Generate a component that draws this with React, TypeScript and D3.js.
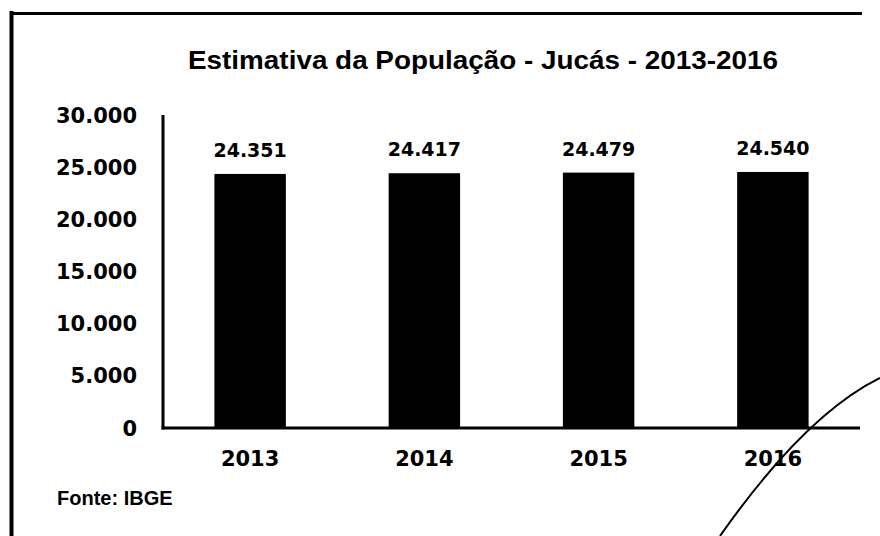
import React from "react";
import * as d3 from "d3";

const categories = ["2013", "2014", "2015", "2016"];
const values = [24351, 24417, 24479, 24540];
const valueLabels = ["24.351", "24.417", "24.479", "24.540"];
const yTicks = [0, 5000, 10000, 15000, 20000, 25000, 30000];
const yTickLabels = ["0", "5.000", "10.000", "15.000", "20.000", "25.000", "30.000"];
const title = "Estimativa da População - Jucás - 2013-2016";
const source = "Fonte: IBGE";

export default function App() {
  const W = 880, H = 536;
  const left = 163, right = 860, top = 115, bottom = 428;
  const x = d3.scaleBand<string>().domain(categories).range([left, right]).paddingInner(0.59).paddingOuter(0.295);
  const y = d3.scaleLinear().domain([0, 30000]).range([bottom, top]);
  const tickFont = "'DejaVu Sans', sans-serif";
  return (
    <svg width={W} height={H} style={{ position: "absolute", left: 0, top: 0, background: "#fff" }}>
      {/* scan frame */}
      <line x1={11.5} y1={11} x2={11.5} y2={H} stroke="#000" strokeWidth={4} />
      <line x1={10} y1={13.5} x2={862} y2={13.5} stroke="#000" strokeWidth={3} />
      <text x={483} y={69} textAnchor="middle" fontFamily="'Liberation Sans', Arial, sans-serif" fontWeight="bold" fontSize={25} textLength={590} lengthAdjust="spacingAndGlyphs">{title}</text>
      {categories.map((c, i) => (
        <rect key={c} x={x(c)} y={y(values[i])} width={x.bandwidth()} height={bottom - y(values[i])} fill="#000" />
      ))}
      {categories.map((c, i) => (
        <text key={"v" + c} x={x(c)! + x.bandwidth() / 2} y={y(values[i]) - 17} textAnchor="middle" fontFamily={tickFont} fontWeight="bold" fontSize={19}>{valueLabels[i]}</text>
      ))}
      <line x1={left} y1={top} x2={left} y2={bottom + 1.5} stroke="#000" strokeWidth={3} />
      <line x1={left - 1.5} y1={bottom} x2={right} y2={bottom} stroke="#000" strokeWidth={3} />
      {yTicks.map((t, i) => (
        <text key={"t" + t} x={137} y={y(t)} dy="0.36em" textAnchor="end" fontFamily={tickFont} fontWeight="bold" fontSize={21}>{yTickLabels[i]}</text>
      ))}
      {categories.map((c) => (
        <text key={"x" + c} x={x(c)! + x.bandwidth() / 2} y={466} textAnchor="middle" fontFamily={tickFont} fontWeight="bold" fontSize={21}>{c}</text>
      ))}
      <text x={57} y={505} fontFamily="'Liberation Sans', Arial, sans-serif" fontWeight="bold" fontSize={20}>{source}</text>
      {/* hand-drawn pen stroke on the scan */}
      <path d="M720,536 Q805,415 880,378" fill="none" stroke="#000" strokeWidth={2} />
    </svg>
  );
}
